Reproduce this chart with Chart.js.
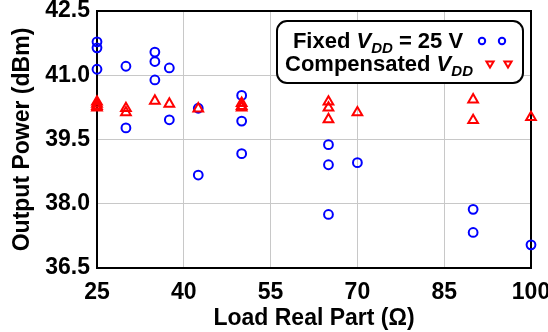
<!DOCTYPE html>
<html>
<head>
<meta charset="utf-8">
<script src="https://cdn.jsdelivr.net/npm/chart.js@4/dist/chart.umd.min.js"></script>
<style>
  html, body { margin: 0; padding: 0; background: #ffffff; }
  #wrap { width: 548px; height: 332px; }
</style>
</head>
<body>
<div id="wrap"><canvas id="c" width="548" height="332"></canvas></div>
<script>
// Output power versus real part of the load impedance
const fixedLoad  = [25, 25, 25, 30, 30, 35, 35, 35, 37.5, 37.5, 42.5, 42.5, 50, 50, 50, 65, 65, 65, 70, 90, 90, 100];
const fixedPower = [41.78, 41.64, 41.14, 41.21, 39.77, 41.54, 41.32, 40.89, 41.17, 39.96, 40.23, 38.67, 40.53, 39.93, 39.17, 39.38, 38.91, 37.75, 38.96, 37.87, 37.33, 37.04];

const compLoad  = [25, 25, 25, 25, 30, 30, 35, 37.5, 42.5, 50, 50, 50, 65, 65, 65, 70, 90, 90, 100];
const compPower = [40.38, 40.33, 40.28, 40.24, 40.23, 40.13, 40.40, 40.33, 40.22, 40.35, 40.28, 40.24, 40.38, 40.24, 39.97, 40.13, 40.43, 39.95, 40.02];

const xTicks = [25, 40, 55, 70, 85, 100];
const yTicks = [36.5, 38.0, 39.5, 41.0, 42.5];

const FONT = '"Liberation Sans", Arial, Helvetica, sans-serif';
const BLUE = '#0000ff';
const RED = '#ff0000';

const toPoints = (xs, ys) => xs.map((x, i) => ({ x: x, y: ys[i] }));

// Black box around the plotting area, under the markers
const framePlugin = {
  id: 'frame',
  beforeDatasetsDraw(chart) {
    const { ctx, chartArea: a } = chart;
    ctx.save();
    ctx.strokeStyle = '#000';
    ctx.lineWidth = 2;
    ctx.strokeRect(a.left, a.top, a.right - a.left, a.bottom - a.top);
    ctx.restore();
  }
};

// Boxed legend with subscripted V_DD labels
const legendBoxPlugin = {
  id: 'legendBox',
  afterDatasetsDraw(chart) {
    const ctx = chart.ctx;
    const bx = 277, by = 21, bw = 246, bh = 62, r = 10;
    ctx.save();
    ctx.beginPath();
    ctx.moveTo(bx + r, by);
    ctx.arcTo(bx + bw, by, bx + bw, by + bh, r);
    ctx.arcTo(bx + bw, by + bh, bx, by + bh, r);
    ctx.arcTo(bx, by + bh, bx, by, r);
    ctx.arcTo(bx, by, bx + bw, by, r);
    ctx.closePath();
    ctx.fillStyle = '#fff';
    ctx.fill();
    ctx.strokeStyle = '#000';
    ctx.lineWidth = 2;
    ctx.stroke();

    const main = 'bold 22px ' + FONT;
    const ital = 'italic bold 22px ' + FONT;
    const sub = 'italic bold 15px ' + FONT;

    function drawLine(parts, cx, base) {
      let total = 0;
      parts.forEach(p => { ctx.font = p.f; total += ctx.measureText(p.t).width; });
      let x = cx - total / 2;
      ctx.fillStyle = '#000';
      ctx.textBaseline = 'alphabetic';
      ctx.textAlign = 'left';
      parts.forEach(p => {
        ctx.font = p.f;
        ctx.fillText(p.t, x, base + (p.dy || 0));
        x += ctx.measureText(p.t).width;
      });
    }
    drawLine([
      { t: 'Fixed ', f: main },
      { t: 'V', f: ital },
      { t: 'DD', f: sub, dy: 5 },
      { t: ' = 25 V', f: main }
    ], 378, 48);
    drawLine([
      { t: 'Compensated ', f: main },
      { t: 'V', f: ital },
      { t: 'DD', f: sub, dy: 5 }
    ], 379, 71);

    // sample markers
    ctx.lineWidth = 2;
    ctx.strokeStyle = BLUE;
    [482, 502].forEach(x => {
      ctx.beginPath();
      ctx.arc(x, 41, 3.2, 0, Math.PI * 2);
      ctx.stroke();
    });
    ctx.strokeStyle = RED;
    [490, 508].forEach(x => {
      ctx.beginPath();
      ctx.moveTo(x - 3.6, 61.5);
      ctx.lineTo(x + 3.6, 61.5);
      ctx.lineTo(x, 67.5);
      ctx.closePath();
      ctx.stroke();
    });
    ctx.restore();
  }
};

new Chart(document.getElementById('c'), {
  type: 'scatter',
  data: {
    datasets: [
      {
        label: 'Fixed VDD = 25 V',
        data: toPoints(fixedLoad, fixedPower),
        pointStyle: 'circle',
        pointRadius: 4.4,
        pointBorderWidth: 2,
        borderColor: BLUE,
        backgroundColor: 'rgba(0,0,0,0)',
        order: 2,
        clip: false
      },
      {
        label: 'Compensated VDD',
        data: toPoints(compLoad, compPower),
        pointStyle: 'triangle',
        pointRadius: 5.6,
        pointBorderWidth: 2,
        borderColor: RED,
        backgroundColor: 'rgba(0,0,0,0)',
        order: 1,
        clip: false
      }
    ]
  },
  options: {
    responsive: false,
    animation: false,
    devicePixelRatio: 1,
    layout: { padding: { top: 11, right: 17, left: 0, bottom: 0 } },
    plugins: {
      legend: { display: false },
      tooltip: { enabled: false }
    },
    scales: {
      x: {
        type: 'linear',
        min: 25,
        max: 100,
        afterBuildTicks: s => { s.ticks = xTicks.map(v => ({ value: v })); },
        afterFit: s => { s.height = 64; s.paddingLeft = 0; s.paddingRight = 0; },
        grid: { color: '#c8c8c8', lineWidth: 1, drawTicks: false },
        border: { display: false },
        ticks: {
          padding: 11,
          color: '#000',
          maxRotation: 0,
          font: { family: FONT, size: 23, weight: 'bold' },
          callback: v => String(v)
        },
        title: {
          display: true,
          text: 'Load Real Part (\u03a9)',
          color: '#000',
          padding: { top: 0, bottom: 0 },
          font: { family: FONT, size: 23, weight: 'bold' }
        }
      },
      y: {
        type: 'linear',
        min: 36.5,
        max: 42.5,
        afterBuildTicks: s => { s.ticks = yTicks.map(v => ({ value: v })); },
        afterFit: s => { s.width = 97; s.paddingTop = 0; s.paddingBottom = 0; },
        grid: { color: '#c8c8c8', lineWidth: 1, drawTicks: false },
        border: { display: false },
        ticks: {
          padding: 7,
          color: '#000',
          font: { family: FONT, size: 23, weight: 'bold' },
          callback: v => Number(v).toFixed(1)
        },
        title: {
          display: true,
          text: 'Output Power (dBm)',
          color: '#000',
          padding: { top: 9, bottom: 0 },
          font: { family: FONT, size: 23, weight: 'bold' }
        }
      }
    }
  },
  plugins: [framePlugin, legendBoxPlugin]
});
</script>
</body>
</html>
